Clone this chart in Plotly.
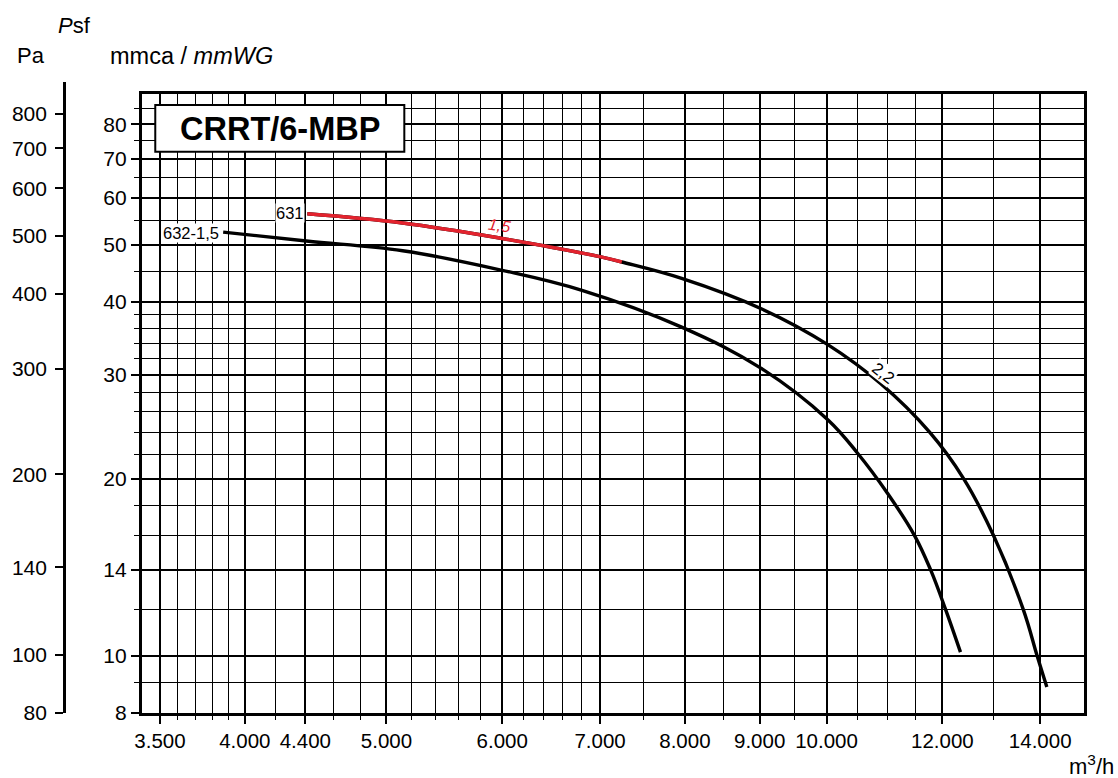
import math
import plotly.graph_objects as go

# ---------------- data ----------------
# curve 632 (1,5 kW)
flow_632 = [3866, 4407, 5129, 6001, 6803, 7959, 9023, 10019, 10501, 11007, 11489, 11781, 12061, 12348]
psf_632 = [52.5, 50.7, 48.8, 45.2, 41.8, 36.2, 30.8, 25.2, 22.1, 18.9, 16.0, 14.0, 12.0, 10.15]

# curve 631 (2,2 kW, full curve)
flow_631 = [4414, 5129, 6001, 7020, 7243, 7959, 9023, 10019, 10892, 11762, 12412, 13010, 13631, 13934, 14147]
psf_631 = [56.4, 54.4, 51.2, 47.6, 46.7, 43.8, 38.9, 33.8, 29.0, 24.0, 20.0, 16.0, 12.0, 10.0, 8.86]

# curve 631 (1,5 kW part, red)
flow_631_15 = [4414, 5129, 6001, 7020, 7243]
psf_631_15 = [56.4, 54.4, 51.2, 47.6, 46.7]

# axes
x_major = [3500, 4000, 4400, 5000, 6000, 7000, 8000, 9000, 10000, 12000, 14000]
x_major_text = ["3.500", "4.000", "4.400", "5.000", "6.000", "7.000", "8.000", "9.000", "10.000", "12.000", "14.000"]
x_minor = [3600, 3700, 3800, 3900, 4200, 4600, 4800, 5200, 5400, 5600, 5800, 6200, 6400, 6600, 6800,
           7500, 8500, 9500, 10500, 11000, 11500, 13000]
y_major = [8, 10, 14, 20, 30, 40, 50, 60, 70, 80]
y_major_text = ["8", "10", "14", "20", "30", "40", "50", "60", "70", "80"]
y_minor = [9, 12, 16, 18, 22, 24, 26, 28, 32, 34, 36, 38, 45, 55, 65, 75, 85]
pa_ticks = [80, 100, 140, 200, 300, 400, 500, 600, 700, 800]
pa_text = ["80", "100", "140", "200", "300", "400", "500", "600", "700", "800"]

# ---------------- layout helpers ----------------
W, H = 1118, 778
ML, MR, MT, MB = 40, 34, 82, 65
PW = W - ML - MR
PH = H - MT - MB
FONT = "Liberation Sans, Arial, Helvetica, sans-serif"
RED = "#e3232e"


def fx(px):
    return (px - ML) / PW


def fy(py):
    return (H - MB - py) / PH


fig = go.Figure()

line_kw = dict(width=3.4, shape="spline", smoothing=1.1)
fig.add_trace(go.Scatter(x=flow_632, y=psf_632, mode="lines", line=dict(color="black", **line_kw),
                         hoverinfo="skip", showlegend=False))
fig.add_trace(go.Scatter(x=flow_631, y=psf_631, mode="lines", line=dict(color="black", **line_kw),
                         hoverinfo="skip", showlegend=False))
fig.add_trace(go.Scatter(x=flow_631_15, y=psf_631_15, mode="lines", line=dict(color=RED, **line_kw),
                         hoverinfo="skip", showlegend=False))
# invisible trace carrying the Pa axis
fig.add_trace(go.Scatter(x=[1], y=[100], xaxis="x2", yaxis="y2", mode="markers", marker=dict(opacity=0),
                         hoverinfo="skip", showlegend=False))

x_dom0 = fx(138)
y_dom1 = fy(94.3)

fig.update_layout(
    width=W, height=H,
    margin=dict(l=ML, r=MR, t=MT, b=MB, pad=0),
    paper_bgcolor="white", plot_bgcolor="white",
    font=dict(family=FONT, size=21, color="black"),
    xaxis=dict(
        type="log", domain=[x_dom0, 1], anchor="y",
        range=[math.log10(3400), math.log10(15000)],
        tickmode="array", tickvals=x_major, ticktext=x_major_text,
        ticks="outside", ticklen=8, tickwidth=2, tickcolor="black",
        showgrid=True, gridcolor="black", gridwidth=2,
        showline=True, linecolor="black", linewidth=2.5, mirror=True,
        zeroline=False,
        tickfont=dict(size=20.5),
        minor=dict(tickmode="array", tickvals=x_minor, ticks="outside", ticklen=4, tickwidth=1,
                   tickcolor="black", showgrid=True, gridcolor="black", gridwidth=1),
    ),
    yaxis=dict(
        type="log", domain=[0, y_dom1], anchor="x",
        range=[math.log10(8), math.log10(90)],
        tickmode="array", tickvals=y_major, ticktext=y_major_text,
        ticks="outside", ticklen=8, tickwidth=2, tickcolor="black",
        showgrid=True, gridcolor="black", gridwidth=2,
        showline=True, linecolor="black", linewidth=2.5, mirror=True,
        zeroline=False,
        tickfont=dict(size=21),
        minor=dict(tickmode="array", tickvals=y_minor, ticks="outside", ticklen=5, tickwidth=1,
                   tickcolor="black", showgrid=True, gridcolor="black", gridwidth=1),
    ),
    xaxis2=dict(domain=[0, 0.015], range=[0, 2], visible=False, anchor="y2"),
    yaxis2=dict(
        type="log", domain=[0, 1], anchor="free", position=fx(60), side="left",
        range=[math.log10(80), math.log10(903)],
        tickmode="array", tickvals=pa_ticks, ticktext=pa_text,
        ticks="outside", ticklen=8, tickwidth=2, tickcolor="black",
        showgrid=False, zeroline=False,
        showline=True, linecolor="black", linewidth=2.5,
        tickfont=dict(size=21), ticklabelstandoff=4,
    ),
)

# title box
fig.add_shape(type="rect", xref="paper", yref="paper",
              x0=fx(151.7), x1=fx(401.7), y0=fy(151.7), y1=fy(105),
              line=dict(color="black", width=2), fillcolor="white", layer="above")

ann = [
    dict(text="<b>CRRT/6-MBP</b>", x=fx(277), y=fy(129.5), xanchor="center", yanchor="middle",
         font=dict(size=32.5)),
    dict(text="<i>P</i>sf", x=fx(52), y=fy(25.5), xanchor="left", yanchor="middle", font=dict(size=22)),
    dict(text="Pa", x=fx(10.5), y=fy(55.5), xanchor="left", yanchor="middle", font=dict(size=22)),
    dict(text="mmca / <i>mmWG</i>", x=fx(104), y=fy(55.5), xanchor="left", yanchor="middle", font=dict(size=23.5)),
    dict(text="m<sup>3</sup>/h", x=fx(1116), y=fy(765), xanchor="right", yanchor="middle", font=dict(size=22)),
    dict(text="632-1,5", x=fx(217), y=fy(233), xanchor="right", yanchor="middle", font=dict(size=16.5),
         bgcolor="white", borderpad=0),
    dict(text="631", x=fx(302), y=fy(213), xanchor="right", yanchor="middle", font=dict(size=16.5),
         bgcolor="white", borderpad=0),
    dict(text="<i>1,5</i>", x=fx(497), y=fy(226), xanchor="center", yanchor="middle", textangle=8,
         font=dict(size=16, color=RED)),
    dict(text="2,2", x=fx(883), y=fy(373), xanchor="center", yanchor="middle", textangle=38,
         font=dict(size=16.5), bgcolor="white", borderpad=0),
]
for a in ann:
    a.update(xref="paper", yref="paper", showarrow=False)
    fig.add_annotation(**a)

fig.write_html("out.html", config={"displayModeBar": False},
               post_script="document.body.style.margin='0';document.body.style.overflow='hidden';")
